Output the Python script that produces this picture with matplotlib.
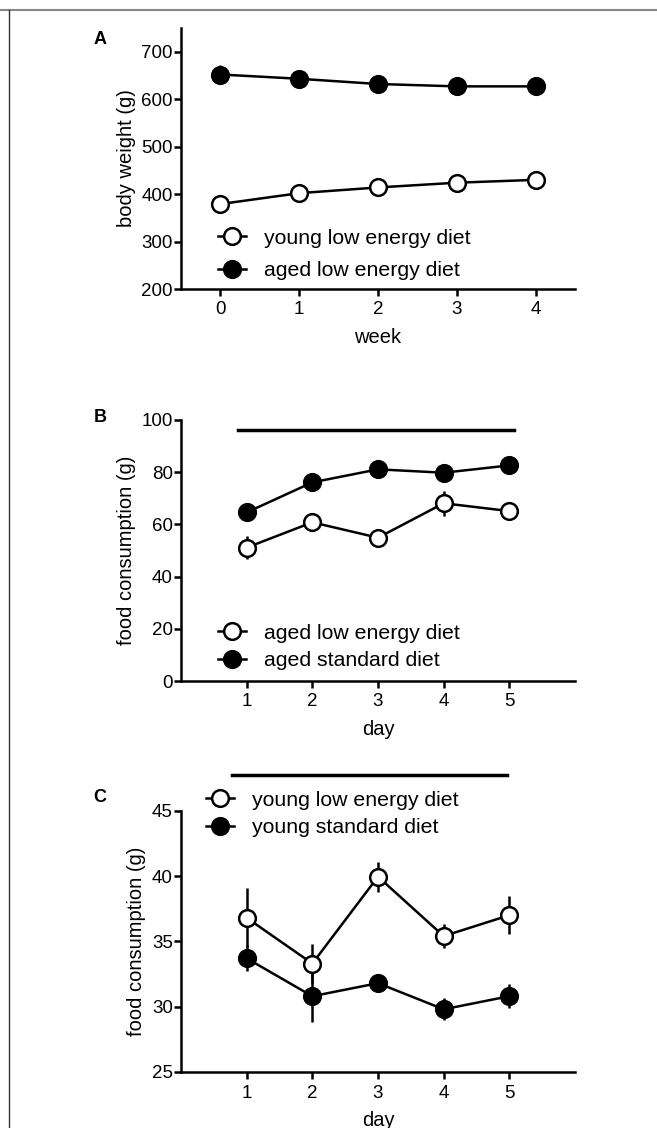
import matplotlib
matplotlib.use("Agg")
import matplotlib.pyplot as plt
from matplotlib.lines import Line2D

plt.rcParams['font.family'] = ['Liberation Sans', 'DejaVu Sans']

# Panel A data
weeks = [0, 1, 2, 3, 4]
young_low_bw = [379, 402, 414, 424, 430]
young_low_bw_err = [5, 5, 5, 5, 5]
aged_low_bw = [652, 643, 632, 627, 627]
aged_low_bw_err = [20, 18, 15, 10, 5]

# Panel B data
days = [1, 2, 3, 4, 5]
aged_low_fc = [51.1, 60.8, 54.9, 68.1, 65.1]
aged_low_fc_err = [4.3, 2.0, 2.0, 4.8, 2.0]
aged_std_fc = [64.6, 76.1, 81.1, 79.8, 82.6]
aged_std_fc_err = [1.5, 1.5, 1.5, 1.5, 1.5]

# Panel C data
young_low_fc = [36.8, 33.3, 39.95, 35.4, 37.0]
young_low_fc_err = [2.25, 1.5, 1.15, 0.9, 1.45]
young_std_fc = [33.7, 30.8, 31.8, 29.8, 30.8]
young_std_fc_err = [1.0, 1.96, 0.3, 0.85, 0.9]

W, H = 657, 1128
fig = plt.figure(figsize=(W / 100, H / 100), dpi=100)


def ax_rect(left, right, top, bottom):
    return [left / W, 1 - bottom / H, (right - left) / W, (bottom - top) / H]


LW = 1.8
MS = 12
TICK_FS = 13.5
LAB_FS = 14.5
LEG_FS = 15.3


def style(ax):
    for s in ['top', 'right']:
        ax.spines[s].set_visible(False)
    for s in ['left', 'bottom']:
        ax.spines[s].set_linewidth(LW)
    ax.tick_params(axis='x', direction='out', length=5, width=LW, labelsize=TICK_FS, pad=4)
    ax.tick_params(axis='y', direction='out', length=5, width=LW, labelsize=TICK_FS, pad=0.8)


def series(ax, x, y, e, filled, label):
    return ax.errorbar(x, y, yerr=e, color='black', lw=LW, elinewidth=LW, capsize=0,
                       marker='o', markersize=MS, markeredgewidth=1.8,
                       markerfacecolor='black' if filled else 'white',
                       markeredgecolor='black', label=label, clip_on=False, zorder=3)


def legend(ax, conts, xpx, ypx, spacing):
    h = [c[0] for c in conts]
    l = [c.get_label() for c in conts]
    leg = ax.legend(h, l, loc='center left', bbox_to_anchor=(xpx / W, 1 - ypx / H),
                    bbox_transform=fig.transFigure, frameon=False, fontsize=LEG_FS,
                    handlelength=1.3, handletextpad=0.85, labelspacing=spacing,
                    borderpad=0, borderaxespad=0)
    return leg


# Panel A
axA = fig.add_axes(ax_rect(181, 575, 28, 289))
style(axA)
c1 = series(axA, weeks, young_low_bw, young_low_bw_err, False, 'young low energy diet')
c2 = series(axA, weeks, aged_low_bw, aged_low_bw_err, True, 'aged low energy diet')
axA.set_xlim(-0.5, 4.5)
axA.set_ylim(200, 750)
axA.set_xticks(weeks)
axA.set_yticks([200, 300, 400, 500, 600, 700])
axA.set_xlabel('week', fontsize=LAB_FS, labelpad=7)
axA.set_ylabel('body weight (g)', fontsize=LAB_FS, labelpad=4)
legend(axA, [c1, c2], 218, 254.5, 0.63)
fig.text(100 / W, 1 - 39 / H, 'A', fontsize=13, fontweight='bold', ha='center', va='center')

# Panel B
axB = fig.add_axes(ax_rect(181, 575, 420, 681))
style(axB)
c1 = series(axB, days, aged_low_fc, aged_low_fc_err, False, 'aged low energy diet')
c2 = series(axB, days, aged_std_fc, aged_std_fc_err, True, 'aged standard diet')
axB.set_xlim(0, 6)
axB.set_ylim(0, 100)
axB.set_xticks(days)
axB.set_yticks([0, 20, 40, 60, 80, 100])
axB.set_xlabel('day', fontsize=LAB_FS, labelpad=7)
axB.set_ylabel('food consumption (g)', fontsize=LAB_FS, labelpad=4)
axB.plot([0.87, 5.07], [96.3, 96.3], color='black', lw=2.5, clip_on=False)
legend(axB, [c1, c2], 218, 647, 0.4)
fig.text(100 / W, 1 - 417 / H, 'B', fontsize=13, fontweight='bold', ha='center', va='center')

# Panel C
axC = fig.add_axes(ax_rect(181, 575, 810.7, 1072))
style(axC)
c1 = series(axC, days, young_low_fc, young_low_fc_err, False, 'young low energy diet')
c2 = series(axC, days, young_std_fc, young_std_fc_err, True, 'young standard diet')
axC.set_xlim(0, 6)
axC.set_ylim(25, 45)
axC.set_xticks(days)
axC.set_yticks([25, 30, 35, 40, 45])
axC.set_xlabel('day', fontsize=LAB_FS, labelpad=7)
axC.set_ylabel('food consumption (g)', fontsize=LAB_FS, labelpad=4)
axC.plot([0.77, 4.97], [47.7, 47.7], color='black', lw=2.5, clip_on=False)
legend(axC, [c1, c2], 206, 814, 0.4)
fig.text(100 / W, 1 - 798 / H, 'C', fontsize=13, fontweight='bold', ha='center', va='center')

# frame lines
fig.add_artist(Line2D([0, 1], [1 - 9.5 / H, 1 - 9.5 / H], transform=fig.transFigure,
                      color='#888888', lw=1.5))
fig.add_artist(Line2D([8.5 / W, 8.5 / W], [0, 1 - 9.5 / H], transform=fig.transFigure,
                      color='#333333', lw=1.0))

fig.savefig('out.png', dpi=100)
